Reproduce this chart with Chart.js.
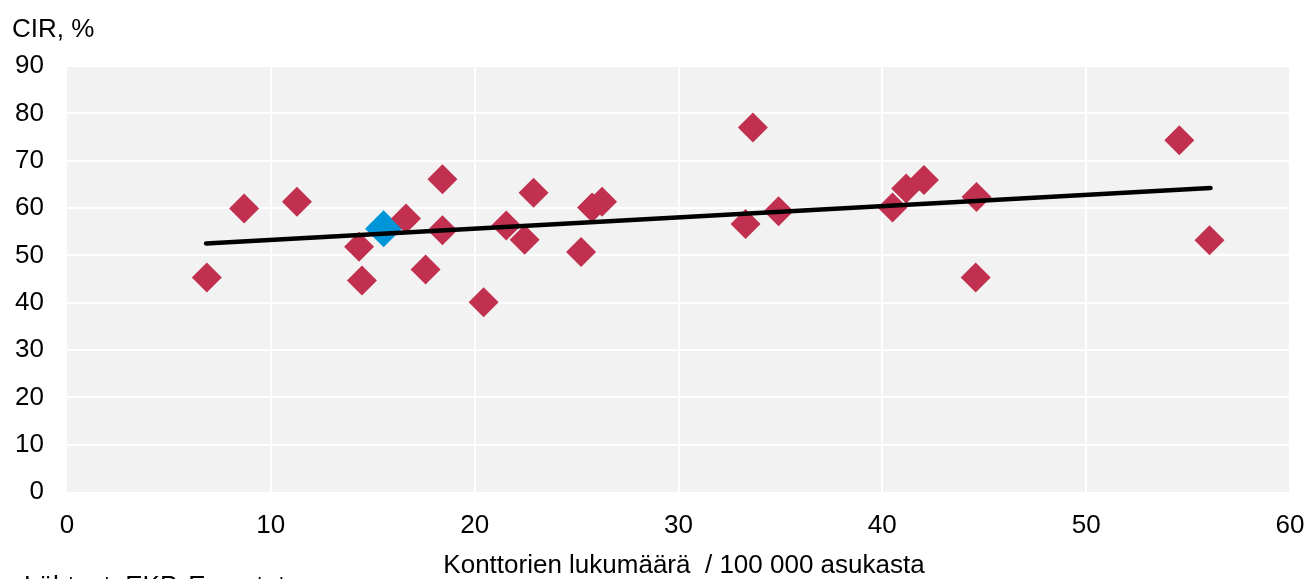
<!DOCTYPE html>
<html>
<head>
<meta charset="utf-8">
<script src="https://cdn.jsdelivr.net/npm/chart.js@4/dist/chart.umd.min.js"></script>
<style>
  html, body { margin: 0; padding: 0; background: #ffffff; }
  #wrap { width: 1309px; height: 579px; position: relative; }
</style>
</head>
<body>
<div id="wrap"><canvas id="chart" width="1309" height="579"></canvas></div>
<script>
// Branches per 100 000 inhabitants (x) and cost-to-income ratio, % (y), one entry per country
const branchesPer100k = [6.86, 8.69, 11.28, 14.33, 14.47, 15.53, 16.63, 17.59, 18.42, 18.42,
                         20.44, 21.55, 22.45, 22.89, 25.22, 25.76, 26.25, 33.29, 33.65, 34.91,
                         40.5, 41.17, 42.04, 44.62, 44.58, 54.57, 56.05];
const cirPercent      = [45.3, 59.9, 61.3, 51.8, 44.7, 55.6, 57.8, 47.0, 66.1, 55.3,
                         40.1, 56.3, 53.3, 63.2, 50.7, 60.1, 61.3, 56.6, 77.0, 59.3,
                         60.1, 64.1, 65.9, 62.3, 45.3, 74.3, 53.2];
// Finland is shown in blue
const highlightIndex = 5;

// Linear trend line end points
const trendX = [6.82, 56.1];
const trendY = [52.5, 64.2];

// Axis ticks
const xTickValues = [0, 10, 20, 30, 40, 50, 60];
const yTickValues = [0, 10, 20, 30, 40, 50, 60, 70, 80, 90];

const yTitle = 'CIR, %';
const xTitle = 'Konttorien lukumäärä  / 100 000 asukasta';
const sourceText = 'Lähteet: EKP, Eurostat';

const RED = '#c1314f';
const BLUE = '#0095d8';
const FONT = '"Liberation Sans", Arial, sans-serif';

const scatterPoints = branchesPer100k.map((x, i) => ({ x, y: cirPercent[i] }));
const trendPoints = trendX.map((x, i) => ({ x, y: trendY[i] }));

const plotBackground = {
  id: 'plotBackground',
  beforeDraw(chart) {
    const { ctx, chartArea: a } = chart;
    ctx.save();
    ctx.fillStyle = '#f2f2f2';
    ctx.fillRect(a.left, a.top, a.right - a.left, a.bottom - a.top);
    ctx.restore();
  }
};

const textLabels = {
  id: 'textLabels',
  afterDraw(chart) {
    const { ctx } = chart;
    ctx.save();
    ctx.fillStyle = '#000';
    ctx.font = '26px ' + FONT;
    ctx.textBaseline = 'alphabetic';
    ctx.textAlign = 'left';
    ctx.fillText(yTitle, 12, 37);
    ctx.textAlign = 'center';
    ctx.fillText(xTitle, 684, 573);
    ctx.textAlign = 'left';
    ctx.fillText(sourceText, 24, 594);
    ctx.restore();
  }
};

const gridColor = (c) => (c.tick && c.tick.value === 0) ? 'rgba(0,0,0,0)' : '#ffffff';

new Chart(document.getElementById('chart'), {
  type: 'scatter',
  data: {
    datasets: [
      {
        type: 'line',
        data: trendPoints,
        borderColor: '#000000',
        borderWidth: 4.5,
        borderCapStyle: 'round',
        pointRadius: 0,
        fill: false,
        tension: 0
      },
      {
        data: scatterPoints,
        pointStyle: 'rectRot',
        pointRadius: cirPercent.map((_, i) => i === highlightIndex ? 18.5 : 15),
        pointBackgroundColor: cirPercent.map((_, i) => i === highlightIndex ? BLUE : RED),
        pointBorderWidth: 0,
        pointBorderColor: 'rgba(0,0,0,0)'
      }
    ]
  },
  options: {
    responsive: false,
    devicePixelRatio: 1,
    animation: false,
    events: [],
    layout: { padding: { top: 66, right: 19, left: 0, bottom: 0 } },
    plugins: { legend: { display: false }, tooltip: { enabled: false } },
    scales: {
      x: {
        type: 'linear',
        min: xTickValues[0],
        max: xTickValues[xTickValues.length - 1],
        afterBuildTicks(scale) { scale.ticks = xTickValues.map(v => ({ value: v })); },
        afterFit(scale) {
          scale.height = 87;
          scale.paddingLeft = 0;
          scale.paddingRight = 0;
        },
        border: { display: false },
        grid: { color: gridColor, lineWidth: 2, drawTicks: false },
        ticks: { color: '#000', font: { family: FONT, size: 26 }, padding: 18, maxRotation: 0 }
      },
      y: {
        type: 'linear',
        min: yTickValues[0],
        max: yTickValues[yTickValues.length - 1],
        afterBuildTicks(scale) { scale.ticks = yTickValues.map(v => ({ value: v })); },
        afterFit(scale) {
          scale.width = 67;
          scale.paddingTop = 0;
          scale.paddingBottom = 0;
        },
        border: { display: false },
        grid: { color: gridColor, lineWidth: 2, drawTicks: false },
        ticks: { color: '#000', font: { family: FONT, size: 26 }, padding: 23 }
      }
    }
  },
  plugins: [plotBackground, textLabels]
});
</script>
</body>
</html>
